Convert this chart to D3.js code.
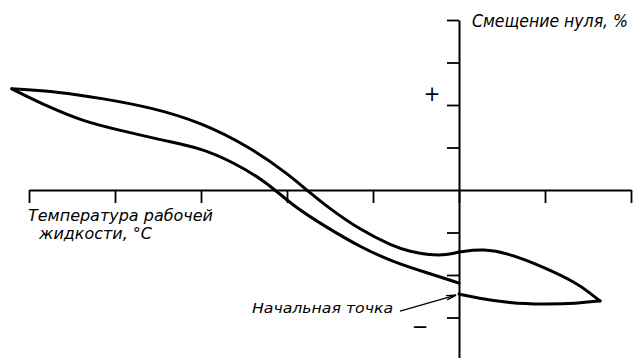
<!DOCTYPE html>
<html>
<head>
<meta charset="utf-8">
<script src="https://cdn.jsdelivr.net/npm/d3@7"></script>
<style>
  html, body { margin: 0; padding: 0; background: #fff; }
  svg { display: block; }
  .lbl { font-family: "Liberation Sans Narrow", "DejaVu Sans Condensed", "Liberation Sans", sans-serif; font-style: italic; fill: #000; }
</style>
</head>
<body>
<div id="chart"></div>
<script>
// --- Data (axis divisions, no numeric labels on the original) ---
const tempTicks = [-5, -4, -3, -2, -1, 0, 1, 2];
const shiftTicks = [-4, -3, -2, -1, 1, 2, 3, 4];

// [temperature division, zero shift division]
// start point -> max temperature
const branch1 = [[0, -2.45], [0.21, -2.54], [0.59, -2.66], [0.98, -2.69], [1.37, -2.67], [1.64, -2.61]];
// max temperature -> back to axis
const branch2 = [[1.64, -2.61], [1.52, -2.42], [1.37, -2.19], [0.98, -1.81], [0.59, -1.50], [0.28, -1.38], [0, -1.46]];
// axis -> min temperature
const branch3 = [[0, -1.46], [-0.14, -1.53], [-0.34, -1.53], [-0.57, -1.45], [-0.77, -1.32], [-1.15, -0.94],
  [-1.53, -0.40], [-1.76, -0.02], [-1.97, 0.35], [-2.43, 1.01], [-3.01, 1.60], [-3.59, 1.95],
  [-4.17, 2.16], [-4.64, 2.31], [-5.20, 2.38]];
// min temperature -> end on axis
const branch4 = [[-5.20, 2.38], [-4.75, 1.93], [-4.37, 1.62], [-3.98, 1.42], [-3.40, 1.15], [-3.01, 0.99],
  [-2.63, 0.66], [-2.23, 0.18], [-1.93, -0.38], [-1.53, -0.89], [-1.15, -1.34], [-0.77, -1.69],
  [-0.34, -1.97], [0, -2.19]];

const yTitle = "Смещение нуля, %";
const xTitle = ["Температура рабочей", "жидкости, °С"];
const startLabel = "Начальная точка";

// --- Layout ---
const width = 636, height = 358;

const x = d3.scaleLinear().domain([-5, 2]).range([29, 631]);
const y = d3.scaleLinear().domain([-4, 4]).range([360, 20]);

const svg = d3.select("#chart").append("svg")
  .attr("width", width)
  .attr("height", height);

svg.append("rect").attr("width", width).attr("height", height).attr("fill", "#fff");

// horizontal axis (ticks pointing down)
const xAxis = svg.append("g")
  .attr("transform", `translate(0,${y(0)})`)
  .call(d3.axisBottom(x).tickValues(tempTicks).tickSize(13).tickSizeOuter(0).tickFormat(""));
xAxis.select(".domain").attr("stroke-width", 2);
xAxis.selectAll(".tick line").attr("stroke-width", 1.8);

// vertical axis (ticks pointing left)
const yAxis = svg.append("g")
  .attr("transform", `translate(${x(0)},0)`)
  .call(d3.axisLeft(y).tickValues(shiftTicks).tickSize(12).tickSizeOuter(0).tickFormat(""));
yAxis.select(".domain").attr("stroke-width", 2);
yAxis.selectAll(".tick line").attr("stroke-width", 1.8);

// curves
const line = d3.line()
  .x(d => x(d[0]))
  .y(d => y(d[1]))
  .curve(d3.curveBasis);

svg.append("g")
  .selectAll("path")
  .data([branch1, branch2, branch3, branch4])
  .join("path")
  .attr("d", line)
  .attr("fill", "none")
  .attr("stroke", "#000")
  .attr("stroke-width", 3)
  .attr("stroke-linejoin", "round")
  .attr("stroke-linecap", "round");

// axis titles
svg.append("text").attr("class", "lbl")
  .attr("x", x(0) + 13).attr("y", y(4) + 7)
  .attr("font-size", 18)
  .attr("textLength", 156).attr("lengthAdjust", "spacingAndGlyphs")
  .text(yTitle);

svg.append("text").attr("class", "lbl")
  .attr("x", x(-5) - 1).attr("y", y(0) + 31)
  .attr("font-size", 15.5)
  .attr("textLength", 185).attr("lengthAdjust", "spacingAndGlyphs")
  .text(xTitle[0]);

svg.append("text").attr("class", "lbl")
  .attr("x", x(-5) + 10).attr("y", y(0) + 49)
  .attr("font-size", 15.5)
  .attr("textLength", 113).attr("lengthAdjust", "spacingAndGlyphs")
  .text(xTitle[1]);

// sign markers
svg.append("text").attr("class", "lbl")
  .attr("x", x(0) - 27).attr("y", y(2.26) + 7)
  .attr("font-size", 22).attr("font-style", "normal")
  .attr("text-anchor", "middle")
  .text("+");

svg.append("text").attr("class", "lbl")
  .attr("x", x(0) - 39).attr("y", y(-3.2) + 8)
  .attr("font-size", 22).attr("font-style", "normal")
  .attr("text-anchor", "middle")
  .text("−");

// start point annotation
const start = branch1[0];
const tipX = x(start[0]) - 3, tipY = y(start[1]) + 1;
const tailX = tipX - 56, tailY = tipY + 16;

svg.append("line")
  .attr("x1", tailX).attr("y1", tailY)
  .attr("x2", tipX).attr("y2", tipY)
  .attr("stroke", "#000").attr("stroke-width", 1.3);

const ang = Math.atan2(tipY - tailY, tipX - tailX);
const headLen = 10, headSpread = 0.22;
svg.append("path")
  .attr("d", `M${tipX - headLen * Math.cos(ang - headSpread)},${tipY - headLen * Math.sin(ang - headSpread)}`
    + `L${tipX},${tipY}`
    + `L${tipX - headLen * Math.cos(ang + headSpread)},${tipY - headLen * Math.sin(ang + headSpread)}`)
  .attr("fill", "none")
  .attr("stroke", "#000").attr("stroke-width", 1.3);

svg.append("text").attr("class", "lbl")
  .attr("x", tailX - 148).attr("y", tailY + 2)
  .attr("font-size", 14)
  .attr("textLength", 141).attr("lengthAdjust", "spacingAndGlyphs")
  .text(startLabel);
</script>
</body>
</html>
